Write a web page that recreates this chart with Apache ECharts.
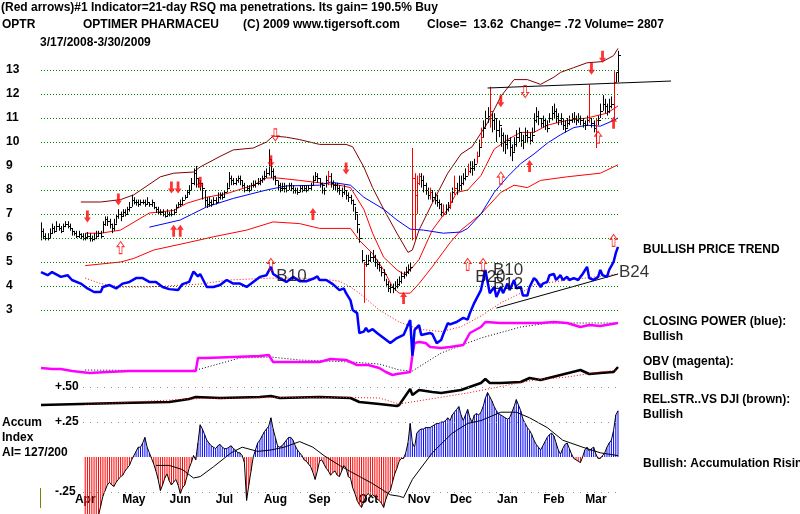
<!DOCTYPE html>
<html><head><meta charset="utf-8">
<script src="https://cdn.jsdelivr.net/npm/echarts@6/dist/echarts.min.js"></script>
<style>html,body{margin:0;padding:0;background:#fff}#c{width:800px;height:514px}</style>
</head><body><div id="c"></div>
<script>
// ---------- calendar / ticks ----------
const holidays = ['2008-03-21','2008-05-26','2008-07-04','2008-09-01','2008-11-27','2008-12-25','2009-01-01','2009-01-19','2009-02-16'];
const monthNames = ['Jan','Feb','Mar','Apr','May','Jun','Jul','Aug','Sep','Oct','Nov','Dec'];
const priceTicks = [3,4,5,6,7,8,9,10,11,12,13];
const accumTicks = [0.5,0.25,-0.25];
const accumTickText = ['+.50','+.25','-.25'];

// ---------- daily price bars (3/17/2008 .. 3/30/2009) ----------
const closes = [
6.3,6.1,6.0,6.0,6.2,6.4,6.3,6.5,6.4,6.3,
6.5,6.6,6.5,6.4,6.3,6.2,6.1,6.15,6.1,6.0,
6.05,6.1,6.0,5.95,6.0,6.1,6.2,6.1,6.6,6.8,
6.7,6.6,6.4,6.6,6.9,7.0,6.9,7.1,7.0,7.2,
7.3,7.6,7.5,7.5,7.4,7.5,7.5,7.4,7.5,7.4,
7.5,7.3,7.2,7.1,7.1,7.0,6.9,7.0,7.0,7.0,
7.1,7.3,7.4,7.4,7.6,7.7,7.9,8.0,8.3,8.7,
8.5,8.3,8.3,8.1,7.6,7.4,7.5,7.4,7.6,7.5,
7.7,7.8,7.7,7.9,8.1,8.5,8.4,8.3,8.4,8.5,
8.4,8.2,8.0,8.1,8.0,8.2,8.2,8.3,8.3,8.4,
8.5,8.6,8.7,9.3,8.8,8.6,8.4,8.2,8.1,8.1,
8.1,8.0,8.2,8.1,8.0,8.0,7.9,8.1,8.0,8.1,
8.0,8.1,8.2,8.4,8.6,8.5,8.3,8.2,8.0,8.4,
8.6,8.3,8.2,8.2,8.1,8.0,7.9,8.0,7.8,7.7,
7.6,7.4,7.1,6.6,6.0,5.1,4.9,4.9,5.1,5.2,
5.2,5.0,4.9,4.8,4.6,4.5,4.1,3.9,3.95,3.9,
4.0,4.1,4.2,4.4,4.5,4.6,4.7,4.8,8.5,7.8,
8.3,8.6,8.4,8.2,8.0,7.8,7.9,7.7,7.6,7.5,
7.4,7.1,7.0,7.2,7.3,7.5,7.9,8.1,8.0,8.2,
8.3,8.5,8.6,8.8,8.9,8.9,9.1,9.4,9.8,10.2,
10.6,11.0,11.1,11.3,10.9,11.0,10.5,10.7,10.3,10.0,
9.9,10.1,9.8,9.6,9.9,10.2,10.4,10.1,10.0,10.3,
10.2,10.1,10.3,10.9,11.1,11.0,10.8,10.9,10.7,10.6,
11.0,11.2,11.3,11.1,10.9,11.0,10.7,10.6,10.8,10.9,
11.0,11.0,10.9,11.0,10.9,10.8,10.7,10.9,11.0,10.8,
10.6,10.9,10.9,11.3,11.6,11.5,11.3,11.5,11.6,12.5,
12.9,13.62];
const highs = [
6.65,6.4,6.2,6.2,6.4,6.6,6.5,6.7,6.6,6.5,
6.6,6.7,6.7,6.6,6.4,6.3,6.3,6.3,6.2,6.2,
6.2,6.25,6.2,6.1,6.2,6.3,6.3,6.3,6.7,6.9,
6.9,6.8,6.6,6.8,7.0,7.2,7.1,7.2,7.2,7.3,
7.5,7.8,7.7,7.6,7.6,7.6,7.6,7.6,7.7,7.5,
7.6,7.5,7.3,7.3,7.2,7.2,7.1,7.2,7.1,7.2,
7.2,7.4,7.5,7.6,7.7,7.8,8.0,8.2,8.5,8.9,
9.0,8.5,8.4,8.3,8.0,7.7,7.7,7.6,7.7,7.7,
7.9,7.9,7.9,8.0,8.3,8.75,8.6,8.5,8.5,8.6,
8.6,8.4,8.3,8.2,8.2,8.3,8.4,8.4,8.5,8.5,
8.6,8.8,8.9,9.7,9.3,8.9,8.6,8.4,8.3,8.3,
8.3,8.2,8.3,8.3,8.2,8.1,8.1,8.2,8.2,8.2,
8.2,8.2,8.3,8.6,8.75,8.7,8.5,8.3,8.1,8.6,
8.8,8.7,8.4,8.3,8.3,8.2,8.1,8.2,8.0,7.9,
7.8,7.6,7.3,7.0,6.4,5.5,5.0,5.3,5.3,5.4,
5.5,5.3,5.1,5.0,4.8,4.7,4.3,4.2,4.1,4.1,
4.2,4.3,4.4,4.6,4.6,4.8,4.9,5.0,9.75,8.7,
8.6,8.7,8.7,8.6,8.3,8.1,8.1,8.0,7.9,7.8,
7.6,7.45,7.4,7.4,7.5,7.9,8.1,8.6,8.3,8.6,
8.6,8.7,8.9,9.1,9.2,9.2,9.3,9.6,10.1,10.6,
10.9,11.3,11.45,12.3,11.2,11.2,11.0,10.9,10.6,10.4,
10.3,10.3,10.2,9.9,10.2,10.5,10.6,10.4,10.3,10.6,
10.5,10.4,10.6,11.2,11.45,11.3,11.0,11.1,11.0,10.9,
11.2,11.5,11.6,11.4,11.2,11.2,11.0,10.9,11.0,11.1,
11.2,11.25,11.1,11.2,11.1,11.0,10.9,11.1,12.4,11.0,
10.9,11.0,11.1,11.6,11.95,11.8,11.6,11.8,11.9,12.95,
12.9,13.8];
const lows = [
5.9,5.95,5.9,5.9,6.0,6.2,6.2,6.3,6.3,6.2,
6.3,6.45,6.4,6.3,6.1,6.1,6.0,6.0,5.95,5.9,
5.9,5.95,5.85,5.85,5.9,5.95,6.05,6.0,6.2,6.5,
6.5,6.4,6.2,6.3,6.6,6.8,6.7,6.9,6.9,7.0,
7.1,7.3,7.4,7.35,7.3,7.35,7.4,7.3,7.4,7.3,
7.3,7.2,7.05,7.0,6.95,6.9,6.85,6.9,6.9,6.9,
6.95,7.1,7.3,7.3,7.4,7.6,7.7,7.8,8.0,8.2,
8.1,8.1,8.0,7.6,7.3,7.25,7.3,7.3,7.4,7.4,
7.5,7.6,7.6,7.7,7.9,8.1,8.2,8.2,8.2,8.3,
8.2,8.1,7.9,7.95,7.9,8.0,8.1,8.1,8.2,8.2,
8.3,8.4,8.5,8.6,8.5,8.4,8.2,8.0,7.9,7.95,
7.9,7.9,8.0,7.95,7.85,7.85,7.8,7.9,7.9,7.95,
7.9,7.95,8.0,8.2,8.4,8.3,8.1,7.85,7.8,8.1,
8.2,8.1,8.0,8.0,7.9,7.8,7.7,7.8,7.6,7.5,
7.4,7.1,6.75,6.2,5.8,4.95,3.3,4.8,4.9,5.0,
5.0,4.8,4.7,4.6,4.4,4.2,3.95,3.75,3.7,3.7,
3.8,3.9,4.0,4.1,4.3,4.4,4.5,4.6,5.9,5.9,
7.0,8.2,8.1,7.9,7.8,7.6,7.6,7.5,7.4,7.3,
7.2,6.9,6.9,7.0,7.1,7.2,7.5,7.8,7.8,8.0,
8.0,8.2,8.4,8.6,8.7,8.6,8.8,9.1,9.4,9.8,
10.2,10.6,10.8,10.6,10.4,10.5,10.0,10.2,9.8,9.6,
9.5,9.7,9.4,9.2,9.6,9.8,10.0,9.8,9.7,10.0,
9.95,9.9,10.0,10.4,10.8,10.7,10.6,10.6,10.5,10.4,
10.8,10.9,11.0,10.8,10.7,10.7,10.5,10.4,10.6,10.7,
10.8,10.8,10.7,10.8,10.7,10.6,10.5,10.7,10.8,10.6,
10.4,9.75,10.7,11.0,11.3,11.2,11.1,11.2,11.4,11.0,
12.5,12.5];
const redBarDays = [130,146,168,169,170,171,176,182,185,187,193,197,199,203,248,251,259];

// ---------- price overlays: [day index, value] ----------
const upperOuterBand = [[18,7.5],[27,7.5],[36,7.6],[42,7.8],[54,8.55],[60,8.7],[69,8.75],[72,8.96],[81,9.4],[87,9.67],[96,9.75],[102,10.0],[105,10.25],[111,10.2],[117,10.1],[126,9.9],[132,9.9],[138,9.9],[141,9.8],[146,8.96],[150,8.1],[155,7.2],[161,6.2],[166,5.4],[168,5.5],[171,6.33],[177,7.45],[184,8.7],[190,9.5],[195,9.8],[202,10.8],[208,11.9],[214,12.6],[220,12.6],[226,12.4],[232,12.7],[235,12.9],[241,13.1],[247,13.3],[254,13.35],[259,13.6],[261,13.9]];
const upperBand = [[20,6.2],[27,6.2],[36,6.33],[49,7.04],[60,7.15],[66,7.45],[75,7.7],[84,7.85],[96,8.2],[102,8.5],[107,8.5],[117,8.4],[126,8.3],[135,8.2],[140,8.1],[146,7.2],[150,6.2],[155,5.2],[161,4.67],[164,4.5],[167,4.67],[171,5.1],[177,6.33],[184,7.2],[188,7.9],[193,8.0],[199,8.6],[205,9.7],[211,10.1],[217,10.4],[223,10.4],[229,10.7],[238,10.9],[247,11.0],[256,11.2],[261,11.5]];
const lowerBand = [[20,4.85],[36,5.0],[42,5.15],[51,5.5],[66,5.8],[78,6.05],[93,6.33],[105,6.67],[117,6.6],[126,6.4],[140,6.4],[144,5.9],[150,5.35],[155,4.67],[159,3.96],[162,3.7],[167,3.7],[171,4.1],[177,4.8],[185,5.8],[190,6.33],[199,7.0],[208,7.9],[214,8.2],[220,8.1],[226,8.4],[238,8.55],[253,8.7],[261,9.05]];
const movingAvg = [[49,6.45],[63,6.75],[75,7.3],[87,7.65],[102,8.0],[111,8.17],[126,8.2],[131,8.33],[140,8.2],[146,7.7],[155,7.2],[161,6.75],[167,6.37],[173,6.33],[182,6.2],[190,6.25],[193,6.4],[199,7.0],[205,7.9],[211,8.55],[217,9.1],[223,9.5],[229,9.95],[235,10.3],[241,10.6],[247,10.7],[253,10.66],[259,10.9],[261,11.0]];
const resistanceLine = [[202,12.25],[285,12.54]];

// ---------- closing power (blue) ----------
const closingPower = [[0,4.58],[3,4.45],[5,4.58],[9,4.38],[12,4.45],[14,4.25],[18,4.1],[21,3.9],[24,3.75],[27,3.75],[28,3.96],[31,4.04],[34,3.9],[37,4.1],[40,4.17],[43,4.33],[46,4.33],[49,4.17],[52,4.17],[55,3.96],[58,3.87],[62,3.83],[64,4.08],[67,4.17],[69,4.6],[71,4.4],[72,4.5],[75,3.96],[78,3.96],[81,4.04],[84,4.25],[87,4.1],[90,4.1],[93,3.96],[96,4.17],[99,4.38],[102,4.45],[104,4.8],[105,4.5],[108,4.33],[111,4.17],[114,4.38],[117,4.2],[120,4.2],[123,4.3],[125,4.4],[126,4.25],[129,4.25],[132,4.08],[135,3.83],[137,3.9],[138,3.7],[140,3.4],[141,3.0],[143,2.87],[144,2.04],[146,2.1],[147,2.25],[148,2.1],[150,2.2],[152,2.04],[155,1.83],[158,1.62],[161,1.83],[164,1.96],[167,2.58],[168,1.1],[169,2.17],[171,2.37],[172,1.96],[174,2.0],[176,2.04],[177,2.0],[179,1.62],[181,1.75],[182,2.0],[184,2.45],[185,2.4],[188,2.5],[191,2.67],[193,2.6],[194,2.87],[196,3.3],[199,3.83],[200,4.25],[201,4.67],[203,3.7],[205,3.96],[206,3.54],[208,3.96],[209,3.7],[211,4.1],[212,3.83],[214,4.25],[215,3.9],[217,3.96],[218,3.6],[220,3.6],[221,3.96],[223,4.33],[224,4.25],[226,3.96],[227,4.1],[229,4.17],[230,4.45],[232,4.5],[233,4.25],[235,4.45],[236,4.25],[238,4.38],[239,4.25],[241,4.33],[243,4.25],[244,4.38],[245,4.5],[247,4.8],[248,4.33],[250,4.25],[252,4.38],[253,4.67],[254,4.45],[256,4.38],[257,4.67],[259,5.0],[260,5.37],[261,5.63]];
const closingPowerMA = [[20,4.33],[27,4.1],[36,3.96],[49,3.96],[72,4.08],[85,4.25],[104,4.33],[117,4.33],[131,4.25],[135,4.2],[140,3.96],[144,3.7],[153,3.0],[162,2.5],[171,2.2],[181,2.1],[190,2.3],[199,2.75],[208,3.3],[217,3.7],[223,4.05],[238,4.25],[253,4.4],[261,4.5]];
const cpTrendLine = [[206,3.08],[261,4.5]];
const signalNames = ['B10','B20','B10','B12','B24'];
const signalPoints = [[106,4.42],[196,4.35],[204,4.65],[204,4.08],[261,4.56]];

// ---------- red arrows: [day index, price] ----------
const arrowsDown = [[21,6.9],[35,7.6],[59,8.1],[62,8.1],[72,8.3],[104,9.2],[138,8.9],[208,11.7],[249,13.05],[254,13.55]];
const arrowsUp = [[60,6.3],[63,6.3],[123,7.0],[164,3.5],[221,9.0],[259,10.8]];
const arrowsUpOpen = [[36,5.6],[104,4.9],[193,4.9],[200,4.9],[208,8.5],[252,10.2],[259,5.9]];
const arrowsDownOpen = [[106,10.3],[219,12.1]];

// ---------- OBV (magenta) and Rel.Str vs DJI ----------
const obv = [[0,4.2],[5,4.1],[9,4.1],[14,3.9],[22,3.7],[30,3.8],[40,3.9],[54,3.9],[70,3.9],[71,5.2],[75,5.2],[87,5.3],[99,5.4],[103,5.5],[105,4.8],[108,4.8],[126,4.8],[131,5.1],[138,5.0],[140,4.8],[143,4.5],[148,4.5],[153,4.2],[156,3.8],[159,3.5],[161,3.6],[167,3.8],[168,5.5],[169,6.7],[171,6.8],[174,6.7],[176,6.3],[181,6.2],[185,6.3],[191,6.5],[194,7.7],[199,8.3],[201,8.8],[208,8.7],[217,8.7],[226,8.7],[232,8.8],[238,8.7],[244,8.3],[248,8.5],[253,8.4],[261,8.7]];
const obvMA = [[20,4.0],[67,3.9],[72,4.1],[90,5.2],[104,5.3],[117,5.0],[140,4.8],[153,4.6],[162,4.0],[168,3.9],[181,5.7],[199,7.2],[217,8.3],[230,8.7],[261,8.7]];
const relStr = [[0,0.5],[18,0.6],[36,0.7],[58,0.8],[67,1.1],[70,1.3],[81,1.2],[99,1.3],[104,1.4],[108,1.2],[126,1.3],[140,1.2],[144,0.8],[153,0.6],[161,0.4],[162,0.5],[167,2.1],[168,1.5],[171,2.0],[177,1.8],[181,1.7],[190,2.0],[199,2.7],[201,3.1],[203,2.7],[208,2.7],[217,2.8],[221,3.2],[226,3.0],[235,3.5],[244,4.0],[248,3.6],[253,3.7],[259,3.8],[261,4.3]];
const relStrMA = [[20,0.55],[72,1.15],[108,1.25],[140,1.25],[153,1.2],[162,0.6],[193,1.7],[223,3.0],[238,3.3],[253,3.8],[261,4.0]];

// ---------- Accumulation index (daily, from day 20) ----------
const accumStart = 20;
const accum = [
-0.45,-0.45,-0.45,-0.45,-0.45,-0.45,-0.42,-0.35,-0.28,-0.24,
-0.2,-0.18,-0.2,-0.21,-0.18,-0.16,-0.14,-0.13,-0.1,-0.08,
-0.06,-0.02,0.01,0.04,0.07,0.07,0.1,0.14,0.07,0.03,
-0.01,-0.05,-0.1,-0.16,-0.24,-0.2,-0.15,-0.12,-0.17,-0.2,
-0.18,-0.16,-0.2,-0.26,-0.22,-0.2,-0.14,-0.08,-0.04,0.01,
-0.02,0.1,0.23,0.2,0.16,0.12,0.1,0.08,0.07,0.06,
0.08,0.09,0.07,0.06,0.06,0.07,0.08,0.06,0.05,0.03,
0.03,0.01,-0.04,-0.31,-0.2,-0.1,0.0,0.05,0.1,0.12,
0.15,0.18,0.2,0.22,0.28,0.2,0.14,0.08,0.07,0.08,
0.1,0.12,0.14,0.14,0.12,0.08,0.05,0.03,0.01,-0.02,
-0.03,-0.05,-0.07,-0.11,-0.16,-0.1,-0.03,-0.02,-0.05,-0.08,
-0.1,-0.13,-0.11,-0.1,-0.13,-0.14,-0.1,-0.06,-0.08,-0.14,
-0.15,-0.22,-0.26,-0.31,-0.34,-0.36,-0.32,-0.28,-0.26,-0.28,
-0.27,-0.28,-0.3,-0.31,-0.33,-0.36,-0.3,-0.26,-0.24,-0.18,
-0.12,-0.08,-0.03,-0.01,-0.01,0.03,0.1,0.24,0.1,0.07,
0.17,0.19,0.2,0.2,0.21,0.21,0.21,0.22,0.23,0.24,
0.24,0.25,0.25,0.26,0.28,0.26,0.3,0.32,0.34,0.36,
0.3,0.26,0.3,0.34,0.28,0.25,0.3,0.31,0.3,0.32,
0.36,0.42,0.46,0.43,0.4,0.36,0.33,0.31,0.3,0.29,
0.28,0.27,0.28,0.32,0.36,0.41,0.37,0.33,0.27,0.24,
0.21,0.19,0.16,0.12,0.09,0.07,0.05,0.08,0.11,0.14,
0.16,0.17,0.15,0.1,0.05,0.02,0.06,0.09,0.1,0.06,
0.02,-0.01,-0.02,-0.03,-0.04,0.0,0.05,0.07,0.04,0.06,
0.07,0.02,-0.01,-0.01,0.01,0.03,0.07,0.1,0.12,0.19,
0.3,0.33];
const accumMA = [[52,-0.06],[58,-0.06],[64,-0.09],[69,-0.15],[72,-0.14],[78,-0.07],[86,0.03],[91,0.07],[98,0.04],[104,0.05],[110,0.07],[117,0.11],[123,0.07],[128,0.01],[135,-0.06],[143,-0.13],[150,-0.19],[158,-0.27],[162,-0.28],[164,-0.29],[168,-0.16],[177,0.03],[186,0.17],[193,0.24],[199,0.26],[208,0.32],[215,0.32],[221,0.28],[229,0.21],[236,0.12],[245,0.07],[253,0.03],[261,0.01]];

// ---------- build ----------
const days = [];
(function(){
  let t = Date.UTC(2008,2,17);
  while (days.length < closes.length) {
    const d = new Date(t);
    const wd = d.getUTCDay();
    const s = d.toISOString().slice(0,10);
    if (wd !== 0 && wd !== 6 && holidays.indexOf(s) < 0) days.push(s);
    t += 86400000;
  }
})();
const lastDay = days.length - 1;
const FONT = '"Liberation Sans", Arial, sans-serif';
const GL = 41, GW = 577;
const extDays = 285;
const GW_EXT = GW * extDays / lastDay;

const barData = days.map((d,i)=>[i, highs[i], lows[i], closes[i], redBarDays.indexOf(i) >= 0 ? 1 : 0]);
const accumData = days.map((d,i)=>{
  const v = i >= accumStart ? accum[i-accumStart] : null;
  if (v == null) return null;
  return {value: v, itemStyle: {color: v >= 0 ? '#0000ff' : '#ff0000'}};
});
const accumLine = days.map((d,i)=> i >= accumStart ? accum[i-accumStart] : null);

function renderBar(params, api) {
  const x = api.value(0);
  const hi = api.coord([x, api.value(1)]);
  const lo = api.coord([x, api.value(2)]);
  const cl = api.coord([x, api.value(3)]);
  const color = api.value(4) ? '#ff0000' : '#000000';
  const px = Math.round(hi[0]) + 0.5;
  const cy = Math.round(cl[1]) + 0.5;
  return {type:'group', children:[
    {type:'line', shape:{x1:px, y1:hi[1], x2:px, y2:lo[1]}, style:{stroke:color, lineWidth:1}},
    {type:'line', shape:{x1:px, y1:cy, x2:px+2.5, y2:cy}, style:{stroke:color, lineWidth:1}}
  ]};
}

const arrowPath = 'path://M4,0 L8,5 L5.6,5 L5.6,12 L2.4,12 L2.4,5 L0,5 Z';
function arrowSeries(data, rot, open) {
  return {type:'scatter', xAxisIndex:0, yAxisIndex:0, data:data, symbol:arrowPath, symbolSize:[7,12], symbolRotate:rot,
    itemStyle: open ? {color:'rgba(0,0,0,0)', borderColor:'#ff0000', borderWidth:1} : {color:'#ff0000'},
    z:6, silent:true};
}
function lineS(data, xi, yi, color, width, type, z) {
  return {type:'line', xAxisIndex:xi, yAxisIndex:yi, data:data, showSymbol:false, symbol:'none', connectNulls:true, clip:false,
    lineStyle:{color:color, width:width, type:type||'solid'}, z:z||3, silent:true};
}

const catAxis = (gi, extra) => Object.assign({type:'category', gridIndex:gi, data:days, boundaryGap:false, show:false}, extra||{});

const option = {
  animation:false,
  grid:[
    {left:GL, width:GW, top:46, height:312},              // 0 price
    {left:GL, width:GW_EXT, top:46, height:312},          // 1 resistance line (extends right)
    {left:GL, width:GW, top:300, height:110},             // 2 OBV / RS
    {left:GL, width:GW, top:387, height:105},             // 3 accumulation (+.50 .. -.25)
    {left:GL, width:GW, top:470, height:21}               // 4 month labels
  ],
  xAxis:[
    catAxis(0),
    {type:'value', gridIndex:1, min:0, max:extDays, show:false},
    catAxis(2),
    catAxis(3),
    catAxis(4, {show:true, axisLine:{show:false}, axisTick:{show:false}, splitLine:{show:false},
      axisLabel:{margin:3, color:'#000', fontSize:12, fontWeight:'bold', fontFamily:FONT,
        interval:(idx, val)=> idx > 0 && +val.slice(8) >= 15 && (+days[idx-1].slice(8) < 15 || days[idx-1].slice(5,7) !== val.slice(5,7)),
        formatter:(val)=> monthNames[+val.slice(5,7)-1]}})
  ],
  yAxis:[
    {type:'value', gridIndex:0, min:1, max:14, interval:1, axisLine:{show:false}, axisTick:{show:false}, splitLine:{show:false},
      axisLabel:{align:'left', margin:35, color:'#000', fontSize:12, fontWeight:'bold', fontFamily:FONT,
        formatter:(v)=> priceTicks.indexOf(v) >= 0 ? String(v) : ''}},
    {type:'value', gridIndex:1, min:1, max:14, show:false},
    {type:'value', gridIndex:2, min:0, max:11, show:false},
    {type:'value', gridIndex:3, min:-0.25, max:0.5, interval:0.25, axisLine:{show:false}, axisTick:{show:false}, splitLine:{show:false},
      axisLabel:{inside:true, align:'left', margin:14, color:'#000', fontSize:12, fontWeight:'bold', fontFamily:FONT,
        formatter:(v)=>{ const k = accumTicks.indexOf(v); return k >= 0 ? accumTickText[k] : ''; }}},
    {type:'value', gridIndex:4, show:false},
    {type:'value', gridIndex:0, min:1, max:14, show:false}   // 5 closing power
  ],
  series:[
    Object.assign(lineS(upperOuterBand, 0, 0, '#800000', 1, 'solid', 2), {
      markLine:{silent:true, symbol:['none','none'], label:{show:false}, animation:false,
        lineStyle:{color:'#008000', width:1, type:[1,2]},
        data: priceTicks.map(v=>[{coord:[days[0], v]}, {coord:[days[lastDay], v]}])}
    }),
    lineS(upperBand, 0, 0, '#ff0000', 1),
    lineS(lowerBand, 0, 0, '#ff0000', 1),
    lineS(movingAvg, 0, 0, '#0000ff', 1),
    {type:'custom', xAxisIndex:0, yAxisIndex:0, data:barData, renderItem:renderBar, encode:{x:0, y:[1,2,3]}, z:4, silent:true, clip:false},
    lineS(resistanceLine, 1, 1, '#000000', 1, 'solid', 4),
    lineS(closingPowerMA, 0, 5, '#ff0000', 1, [1,2], 3),
    lineS(cpTrendLine, 0, 5, '#000000', 1, 'solid', 3),
    lineS(closingPower, 0, 5, '#0000ff', 2.5, 'solid', 5),
    {type:'scatter', xAxisIndex:0, yAxisIndex:5, symbolSize:0, silent:true, z:6,
      data: signalPoints.map((p,k)=>({name:signalNames[k], value:p})),
      label:{show:true, position:'right', distance:1, formatter:'{b}', color:'#000', fontSize:17, fontFamily:FONT}},
    arrowSeries(arrowsDown, 180, false),
    arrowSeries(arrowsUp, 0, false),
    arrowSeries(arrowsUpOpen, 0, true),
    arrowSeries(arrowsDownOpen, 180, true),
    lineS(obvMA, 2, 2, '#000000', 1, [1,2], 3),
    lineS(obv, 2, 2, '#ff00ff', 2.5, 'solid', 4),
    lineS(relStrMA, 2, 2, '#ff0000', 1, [1,2], 4),
    lineS(relStr, 2, 2, '#000000', 2.5, 'solid', 3),
    {type:'bar', xAxisIndex:3, yAxisIndex:3, data:accumData, barWidth:1, silent:true, z:2, clip:false,
      markLine:{silent:true, symbol:['none','none'], label:{show:false}, animation:false,
        lineStyle:{color:'#909090', width:1, type:[1,6]},
        data: accumTicks.map(v=>[{coord:[days[19], v]}, {coord:[days[lastDay], v]}])}},
    lineS(accumLine, 3, 3, '#000000', 1, 'solid', 3),
    lineS(accumMA, 3, 3, '#000000', 1, 'solid', 3),
    {type:'line', xAxisIndex:4, yAxisIndex:4, data:[], silent:true}
  ],
  graphic:[
    ...[
      [1, 8, '(Red arrows)#1 Indicator=21-day RSQ ma penetrations. Its gain= 190.5% Buy'],
      [2, 25, 'OPTR'], [83, 25, 'OPTIMER PHARMACEU'], [243, 25, '(C) 2009 www.tigersoft.com'],
      [427, 25, 'Close=  13.62  Change= .72 Volume= 2807'],
      [40, 43, '3/17/2008-3/30/2009'],
      [643, 250, 'BULLISH PRICE TREND'],
      [643, 322, 'CLOSING POWER (blue):'], [643, 337, 'Bullish'],
      [643, 362, 'OBV (magenta):'], [643, 377, 'Bullish'],
      [643, 400, 'REL.STR..VS DJI (brown):'], [643, 415, 'Bullish'],
      [643, 464, 'Bullish: Accumulation Rising'],
      [2, 423, 'Accum'], [2, 438, 'Index'], [2, 453, 'AI= 127/200']
    ].map(t=>({type:'text', x:t[0], y:t[1], silent:true, z:10,
      style:{text:t[2], fill:'#000', font:'bold 12px ' + FONT, verticalAlign:'middle', textVerticalAlign:'middle'}})),
    {type:'line', silent:true, shape:{x1:40.5, y1:488, x2:40.5, y2:508}, style:{stroke:'#808000', lineWidth:1}}
  ]
};
echarts.init(document.getElementById('c'), null, {renderer:'canvas'}).setOption(option);
</script>
</body></html>
